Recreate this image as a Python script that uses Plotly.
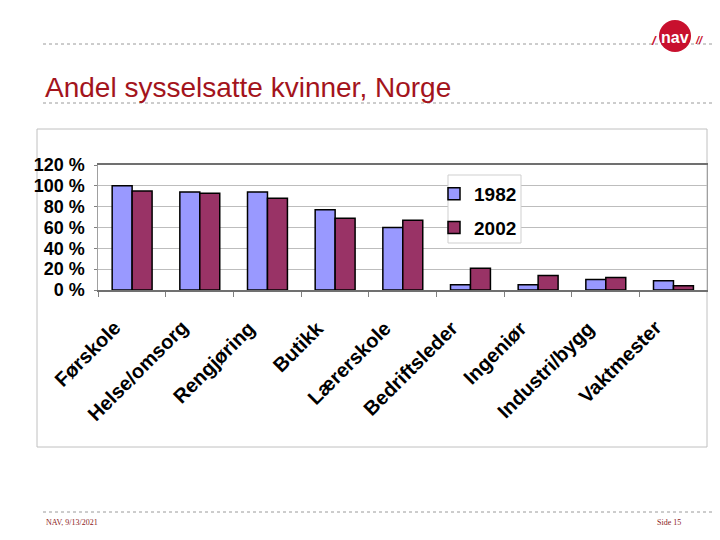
import plotly.graph_objects as go

categories = ["Førskole", "Helse/omsorg", "Rengjøring", "Butikk", "Lærerskole",
              "Bedriftsleder", "Ingeniør", "Industri/bygg", "Vaktmester"]
values_1982 = [100, 94, 94, 77, 60, 5, 5, 10, 9]
values_2002 = [95, 93, 88, 69, 67, 21, 14, 12, 4]
y_ticks = [0, 20, 40, 60, 80, 100, 120]
y_tick_text = [f"{v} %" for v in y_ticks]

# the page body has an 8px margin: map window pixels to paper fractions
OFF = 8
W, H = 720 - OFF, 540 - OFF
def px(x):
    return (x - OFF) / W
def py(y):
    return 1 - (y - OFF) / H

fig = go.Figure()
fig.add_trace(go.Bar(name="1982", x=categories, y=values_1982, legendgroup="a",
                     marker=dict(color="#9999FF", line=dict(color="#000000", width=1.5))))
fig.add_trace(go.Bar(name="2002", x=categories, y=values_2002, legendgroup="b",
                     marker=dict(color="#993366", line=dict(color="#000000", width=1.5))))

FAM = "Liberation Sans, Arial, sans-serif"
font_bold = dict(family=FAM, size=18, color="#000000", weight="bold")

fig.update_layout(
    width=W, height=H, autosize=False,
    margin=dict(l=0, r=0, t=0, b=0, pad=0, autoexpand=False),
    paper_bgcolor="white", plot_bgcolor="white",
    barmode="group", bargap=0.41, bargroupgap=0,
    showlegend=True,
    legend=dict(x=px(434), y=py(175), xanchor="left", yanchor="top",
                bgcolor="rgba(0,0,0,0)", borderwidth=0,
                font=dict(family=FAM, size=19, color="#000000", weight="bold"),
                traceorder="grouped", tracegroupgap=6, itemwidth=30),
    xaxis=dict(domain=[px(98.3), px(707.3)], type="category", automargin=False,
               categoryorder="array", categoryarray=categories,
               range=[-0.5, len(categories) - 0.5], autorange=False,
               showticklabels=False,
               showline=True, linecolor="#707070", linewidth=1.5, mirror=True,
               ticks="outside", ticklen=5, tickcolor="#808080", tickson="boundaries",
               showgrid=False),
    yaxis=dict(domain=[py(290), py(165)], range=[0, 120], automargin=False,
               tickmode="array", tickvals=y_ticks, ticktext=y_tick_text, tickfont=font_bold,
               showline=True, linecolor="#a0a0a0", linewidth=1, mirror=True,
               ticks="outside", ticklen=3, tickcolor="#808080",
               showgrid=True, gridcolor="#bdbdbd", gridwidth=1,
               zeroline=False, ticklabelstandoff=6),
)

shapes = []
# outer chart frame
shapes.append(dict(type="rect", xref="paper", yref="paper",
                   x0=px(37), x1=px(707), y0=py(447), y1=py(129),
                   line=dict(color="#c0c0c0", width=1), layer="below"))
# legend box
shapes.append(dict(type="rect", xref="paper", yref="paper",
                   x0=px(448), x1=px(521), y0=py(243), y1=py(175),
                   fillcolor="white", line=dict(color="#cfcfcf", width=1), layer="above"))
# dotted lines
for yy in (44, 103, 512):
    shapes.append(dict(type="line", xref="paper", yref="paper",
                       x0=px(43), x1=px(720), y0=py(yy), y1=py(yy),
                       line=dict(color="#9a9a9a", width=1, dash="dot")))
# logo circle
shapes.append(dict(type="circle", xref="paper", yref="paper",
                   x0=px(659), x1=px(691), y0=py(52), y1=py(20),
                   fillcolor="#c8102e", line=dict(color="#c8102e", width=0)))
fig.update_layout(shapes=shapes)

annotations = [
    dict(text="Andel sysselsatte kvinner, Norge", x=px(43), y=py(105), xref="paper", yref="paper",
         xanchor="left", yanchor="bottom", showarrow=False,
         font=dict(family=FAM, size=28, color="#a3141c")),
    dict(text="<b>nav</b>", x=px(675), y=py(37), xref="paper", yref="paper",
         xanchor="center", yanchor="middle", showarrow=False,
         font=dict(family=FAM, size=16, color="white")),
    dict(text="<b><i>/</i></b>", x=px(654), y=py(40), xref="paper", yref="paper",
         xanchor="center", yanchor="middle", showarrow=False,
         font=dict(family=FAM, size=13, color="#c8102e")),
    dict(text="<b><i>//</i></b>", x=px(699), y=py(40), xref="paper", yref="paper",
         xanchor="center", yanchor="middle", showarrow=False,
         font=dict(family=FAM, size=11, color="#c8102e")),
    dict(text="NAV, 9/13/2021", x=px(44), y=py(522), xref="paper", yref="paper",
         xanchor="left", yanchor="middle", showarrow=False,
         font=dict(family="Liberation Serif, Times New Roman, serif", size=8, color="#8b1a1a")),
    dict(text="Side 15", x=px(655), y=py(522), xref="paper", yref="paper",
         xanchor="left", yanchor="middle", showarrow=False,
         font=dict(family="Liberation Serif, Times New Roman, serif", size=8, color="#8b1a1a")),
]
# category labels, rotated 45 degrees, anchored top-right just left of each category centre
for i, cat in enumerate(categories):
    annotations.append(dict(text=cat, x=i, xref="x", y=py(314), yref="paper",
                            xanchor="right", yanchor="top", textangle=-45, xshift=-5,
                            showarrow=False, font=dict(family=FAM, size=20, color="#000000", weight="bold")))
fig.update_layout(annotations=annotations)

fig.write_html("out.html")
